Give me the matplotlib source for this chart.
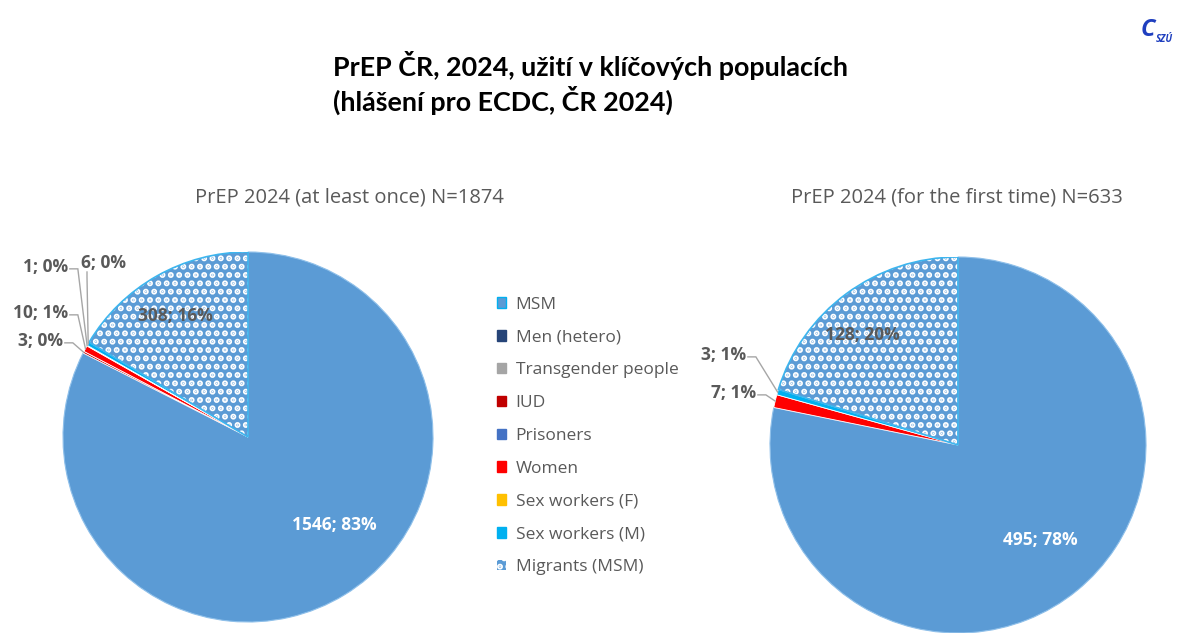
import matplotlib
matplotlib.use("Agg")
import matplotlib.pyplot as plt
from matplotlib.patches import Patch, Wedge
import numpy as np

plt.rcParams['font.family'] = ['Open Sans', 'DejaVu Sans']
plt.rcParams['hatch.linewidth'] = 3.0

categories = ["MSM", "Men (hetero)", "Transgender people", "IUD", "Prisoners",
              "Women", "Sex workers (F)", "Sex workers (M)", "Migrants (MSM)"]
colors = ["#5B9BD5", "#264478", "#A5A5A5", "#C00000", "#4472C4",
          "#FF0000", "#FFC000", "#00B0F0", "#FFFFFF"]

left_values = [1546, 0, 0, 3, 0, 10, 1, 6, 308]
left_pct = [83, 0, 0, 0, 0, 1, 0, 0, 16]
right_values = [495, 0, 0, 0, 0, 7, 0, 3, 128]
right_pct = [78, 0, 0, 0, 0, 1, 0, 1, 20]

title_lines = ["PrEP ČR, 2024, užití v klíčových populacích",
               "(hlášení pro ECDC, ČR 2024)"]
left_title = "PrEP 2024 (at least once) N=1874"
right_title = "PrEP 2024 (for the first time) N=633"

W, H = 1180, 633
fig = plt.figure(figsize=(W / 100, H / 100), dpi=100)
fig.patch.set_facecolor("white")

GRAY = "#595959"
HATCH_BLUE = "#5B9BD5"


def pie_axes(cx, cy, r):
    return fig.add_axes([(cx - r) / W, (H - cy - r) / H, 2 * r / W, 2 * r / H])


def to_data(px, py, cx, cy, r):
    return (px - cx) / r, (cy - py) / r


def draw_pie(ax, values, pcts, r_px, inside_pos, outside_pos):
    idx = [i for i, v in enumerate(values) if v > 0]
    vals = [values[i] for i in idx]
    wedges, _ = ax.pie(vals, colors=[colors[i] for i in idx], startangle=90,
                       counterclock=False, radius=1.0,
                       wedgeprops=dict(linewidth=0.6, edgecolor="white"))
    for w, i in zip(wedges, idx):
        if categories[i].startswith("Migrants"):
            w.set_facecolor(HATCH_BLUE)
            w.set_edgecolor("white")
            w.set_hatch("..")
            w.set_linewidth(0)
            ax.add_patch(Wedge(w.center, w.r, w.theta1, w.theta2,
                               facecolor="none", edgecolor="#3DB5EE", lw=1.2))
        elif categories[i] == "MSM":
            w.set_edgecolor("#8FC0EA")
            w.set_linewidth(0.8)
    ax.set_xlim(-1, 1)
    ax.set_ylim(-1, 1)
    ax.set_aspect("auto")
    ax.axis("off")
    step = 8.0 / r_px
    for w, i in zip(wedges, idx):
        lab = f"{values[i]}; {pcts[i]}%"
        if i in inside_pos:
            x, y, c = inside_pos[i]
            ax.text(x, y, lab, ha="center", va="center", fontsize=12.5,
                    fontweight="bold", color=c)
        elif i in outside_pos:
            x, y, ha, mode = outside_pos[i]
            ang = np.deg2rad((w.theta1 + w.theta2) / 2)
            ex, ey = np.cos(ang), np.sin(ang)
            ax.text(x, y, lab, ha=ha, va="center", fontsize=12.5,
                    fontweight="bold", color=GRAY)
            if mode == "h":
                xs = [x + 0.01, x + 0.01 + step, ex]
                ys = [y - 0.01, y - 0.01, ey]
            else:
                xs = [x + 6.0 / r_px, x + 6.0 / r_px, ex]
                ys = [y - 9.0 / r_px, y - 14.0 / r_px, ey]
            ax.plot(xs, ys, color="#A6A6A6", lw=1.0, clip_on=False,
                    solid_joinstyle="miter")
    return wedges


# Left pie
cxL, cyL, rL = 248, 437, 185
axL = pie_axes(cxL, cyL, rL)
inL = {0: (*to_data(334, 525, cxL, cyL, rL), "white"),
       8: (*to_data(175, 316, cxL, cyL, rL), GRAY)}
outL = {3: (*to_data(63, 341, cxL, cyL, rL), "right", "h"),
        5: (*to_data(68, 313, cxL, cyL, rL), "right", "h"),
        6: (*to_data(68, 267, cxL, cyL, rL), "right", "h"),
        7: (*to_data(81, 263, cxL, cyL, rL), "left", "v")}
draw_pie(axL, left_values, left_pct, rL, inL, outL)

# Right pie
cxR, cyR, rR = 958, 445, 188
axR = pie_axes(cxR, cyR, rR)
inR = {0: (*to_data(1040, 540, cxR, cyR, rR), "white"),
       8: (*to_data(862, 335, cxR, cyR, rR), GRAY)}
outR = {5: (*to_data(756, 393, cxR, cyR, rR), "right", "h"),
        7: (*to_data(746, 355, cxR, cyR, rR), "right", "h")}
draw_pie(axR, right_values, right_pct, rR, inR, outR)

# Titles
for k, yy in enumerate((65, 100)):
    fig.text(333 / W, 1 - yy / H, title_lines[k], fontsize=19.4,
             fontweight="bold", family=["Lato", "DejaVu Sans"],
             ha="left", va="center", color="black")

fig.text(349 / W, 1 - 198 / H, left_title, fontsize=14.5, color=GRAY,
         ha="center", va="center")
fig.text(957 / W, 1 - 198 / H, right_title, fontsize=14.5, color=GRAY,
         ha="center", va="center")

# Legend
handles = []
for c, col in zip(categories, colors):
    if c.startswith("Migrants"):
        handles.append(Patch(facecolor=HATCH_BLUE, edgecolor="white",
                             hatch="..", label=c, lw=0))
    elif c == "MSM":
        handles.append(Patch(facecolor=col, edgecolor="#00B0F0", label=c))
    else:
        handles.append(Patch(facecolor=col, edgecolor=col, label=c))
fig.legend(handles=handles, loc="upper left",
           bbox_to_anchor=(481 / W, 1 - 281 / H), frameon=False,
           fontsize=12.5, handlelength=0.55, handleheight=0.55,
           handletextpad=0.55, labelspacing=0.97, labelcolor=GRAY)

# Logo (approximation)
fig.text(1148 / W, 1 - 30 / H, "C", fontsize=17, fontweight="bold",
         color="#1F3FBF", ha="center", va="center", style="italic")
fig.text(1164 / W, 1 - 39 / H, "SZÚ", fontsize=7, fontweight="bold",
         color="#1F3FBF", ha="center", va="center", style="italic")

fig.savefig("out.png", dpi=100, facecolor="white")
